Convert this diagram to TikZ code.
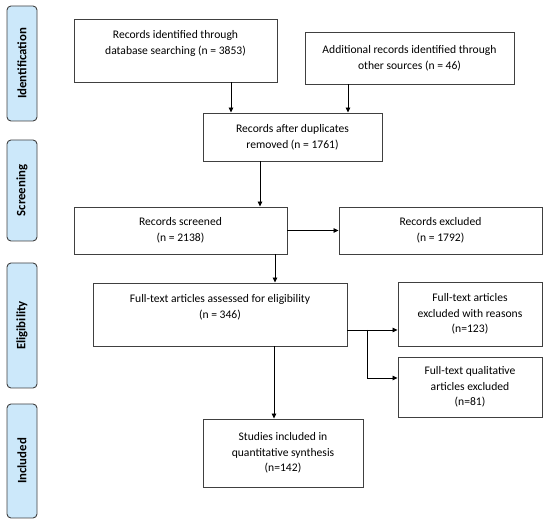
\documentclass[tikz,border=0pt]{standalone}
\usepackage{fontspec}
\setmainfont{Carlito}
\usetikzlibrary{arrows.meta,calc}
\definecolor{sidefill}{HTML}{CCE8FA}
\definecolor{lineclr}{HTML}{404040}
\begin{document}
\begin{tikzpicture}[x=1pt,y=-1pt,
  box/.style={draw=lineclr,line width=0.9pt,fill=white,align=center,inner sep=0pt,
    font=\fontsize{11.6}{15.6}\selectfont,text=black},
  side/.style={draw=lineclr,line width=0.9pt,fill=sidefill,rounded corners=4pt,
    minimum width=30pt,inner sep=0pt},
  sidetext/.style={rotate=90,font=\fontsize{12.8}{14}\selectfont\bfseries,text=black},
  arr/.style={draw=black,line width=0.8pt,-{Triangle[length=5pt,width=4.5pt]}},
  ln/.style={draw=black,line width=0.8pt}]
\useasboundingbox (0,0) rectangle (550,526);
% side bars
\node[side,minimum height=115pt] (sid) at (22,63.5) {};
\node[sidetext] (sidt) at (sid.center) {Identification};
\node[side,minimum height=101pt] (sscr) at (22,190.5) {};
\node[sidetext] (sscrt) at (sscr.center) {Screening};
\node[side,minimum height=125pt] (selg) at (22,325.5) {};
\node[sidetext] (selgt) at (selg.center) {Eligibility};
\node[side,minimum height=114pt] (sinc) at (22,461) {};
\node[sidetext] (sinct) at (sinc.center) {Included};
% boxes
\node[box,minimum width=203pt,minimum height=63pt] (b1) at (175.5,50.5)
  {Records identified through\\database searching (n = 3853)\\\mbox{}};
\node[box,minimum width=209pt,minimum height=52pt] (b2) at (409.5,58)
  {Additional records identified through\\other sources (n = 46)};
\node[box,minimum width=179pt,minimum height=48pt] (b3) at (292.5,137)
  {Records after duplicates\\removed (n = 1761)};
\node[box,minimum width=213pt,minimum height=47pt] (b4) at (180.5,230.5)
  {Records screened\\(n = 2138)};
\node[box,minimum width=203pt,minimum height=47pt] (b5) at (440.5,230.5)
  {Records excluded\\(n = 1792)};
\node[box,minimum width=254pt,minimum height=63pt] (b6) at (220,314.5)
  {Full-text articles assessed for eligibility\\(n = 346)\\\mbox{}};
\node[box,minimum width=144pt,minimum height=64pt] (b7) at (470,314)
  {Full-text articles\\excluded with reasons\\(n=123)};
\node[box,minimum width=144pt,minimum height=60pt] (b8) at (470,387)
  {Full-text qualitative\\articles excluded\\(n=81)};
\node[box,minimum width=160pt,minimum height=68pt] (b9) at (283,453)
  {Studies included in\\quantitative synthesis\\(n=142)};
% guide coordinates
\coordinate (x1) at (231,0);
\coordinate (x2) at (348,0);
\coordinate (x3) at (260,0);
\coordinate (x4) at (275,0);
\coordinate (x5) at (274,0);
\coordinate (yb) at (0,330);
\coordinate (yc) at (0,378);
\coordinate (br) at (367,330);
% connectors
\draw[arr] (b1.south -| x1) -- (b3.north -| x1);
\draw[arr] (b2.south -| x2) -- (b3.north -| x2);
\draw[arr] (b3.south -| x3) -- (b4.north -| x3);
\draw[arr] (b4.east) -- (b5.west);
\draw[arr] (b4.south -| x4) -- (b6.north -| x4);
\draw[arr] (b6.east |- yb) -- (b7.west |- yb);
\draw[ln] (br) -- (br |- yc);
\draw[arr] (br |- yc) -- (b8.west |- yc);
\draw[arr] (b6.south -| x5) -- (b9.north -| x5);
\end{tikzpicture}
\end{document}
